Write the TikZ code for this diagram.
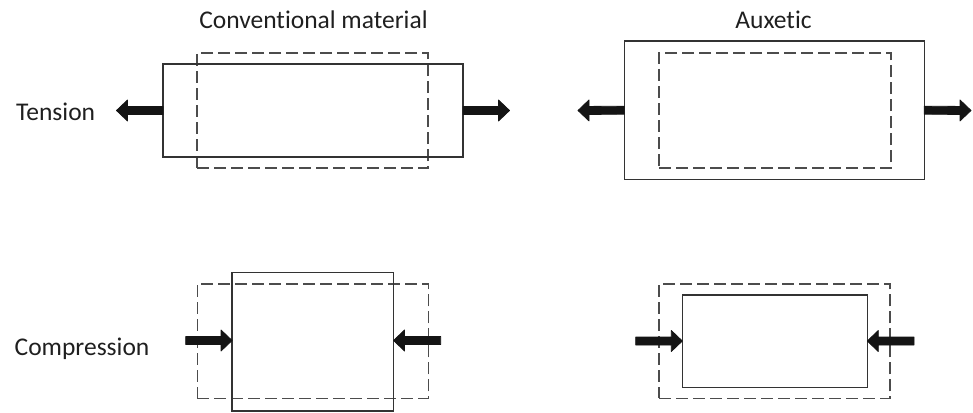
\documentclass[tikz,border=0pt]{standalone}
\usepackage{fontspec}
\setmainfont{Carlito}[Ligatures={NoCommon}]
\usetikzlibrary{calc}

\begin{document}
\begin{tikzpicture}[x=1pt,y=-1pt,
  solidbox/.style={draw=black!80, line width=1.3pt, inner sep=0pt, outer sep=0pt},
  dashbox/.style={draw=black!70, line width=1.3pt, dash pattern=on 12pt off 5pt, inner sep=0pt, outer sep=0pt},
  % block arrow: shaft 8pt, head 11pt long and 21pt wide, tip at the target
  force/.style={fill=black!92, draw=black!92, line width=0.8pt, line join=round,
    to path={
      ($(\tikztostart)+(0,-4)$) --
      ($(\tikztotarget)!11pt!(\tikztostart)+(0,-4)$) --
      ($(\tikztotarget)!11pt!(\tikztostart)+(0,-10.5)$) --
      (\tikztotarget) --
      ($(\tikztotarget)!11pt!(\tikztostart)+(0,10.5)$) --
      ($(\tikztotarget)!11pt!(\tikztostart)+(0,4)$) --
      ($(\tikztostart)+(0,4)$) -- cycle}},
  label/.style={font=\fontsize{25.5pt}{30pt}\selectfont, text=black!88, inner sep=0pt},
  title/.style={label, anchor=base},
  rowlabel/.style={label, anchor=base west}]

  \useasboundingbox (0,0) rectangle (973,412);

  % column and row headings
  \node[title] (hconv) at (313.5,29) {Conventional material};
  \node[title] (haux) at (773.5,29) {Auxetic};
  \node[rowlabel] (htens) at (16,120) {Tension};
  \node[rowlabel] (hcomp) at (14.5,355) {Compression};

  % conventional material under tension
  \node[dashbox, minimum width=231pt, minimum height=115pt] (cTd) at (312.5,110.5) {};
  \node[solidbox, minimum width=300pt, minimum height=93pt] (cTs) at (313,110.5) {};
  \coordinate (cTl) at (116.5,110.5);
  \coordinate (cTr) at (509.5,110.5);
  \path[force] (cTs.west) to (cTl);
  \path[force] (cTs.east) to (cTr);

  % auxetic under tension
  \node[dashbox, minimum width=232pt, minimum height=115pt] (aTd) at (775,110.5) {};
  \node[solidbox, minimum width=300pt, minimum height=138.5pt] (aTs) at (774.3,110.2) {};
  \coordinate (aTl) at (578,110.5);
  \coordinate (aTr) at (971,110.5);
  \path[force] (aTs.west) to (aTl);
  \path[force] (aTs.east) to (aTr);

  % conventional material under compression
  \node[dashbox, minimum width=231pt, minimum height=114.5pt] (cCd) at (312.7,341.2) {};
  \node[solidbox, minimum width=161.5pt, minimum height=138.7pt] (cCs) at (312.8,341.7) {};
  \coordinate (cCl) at (185.7,340.5);
  \coordinate (cCr) at (440.7,340.5);
  \path[force] (cCl) to (cCs.west |- cCl);
  \path[force] (cCr) to (cCs.east |- cCr);

  % auxetic under compression
  \node[dashbox, minimum width=231pt, minimum height=114.5pt] (aCd) at (774.5,341.2) {};
  \node[solidbox, minimum width=185pt, minimum height=92.7pt] (aCs) at (774.8,341.3) {};
  \coordinate (aCl) at (635.7,341);
  \coordinate (aCr) at (914,341);
  \path[force] (aCl) to (aCs.west |- aCl);
  \path[force] (aCr) to (aCs.east |- aCr);
\end{tikzpicture}
\end{document}
